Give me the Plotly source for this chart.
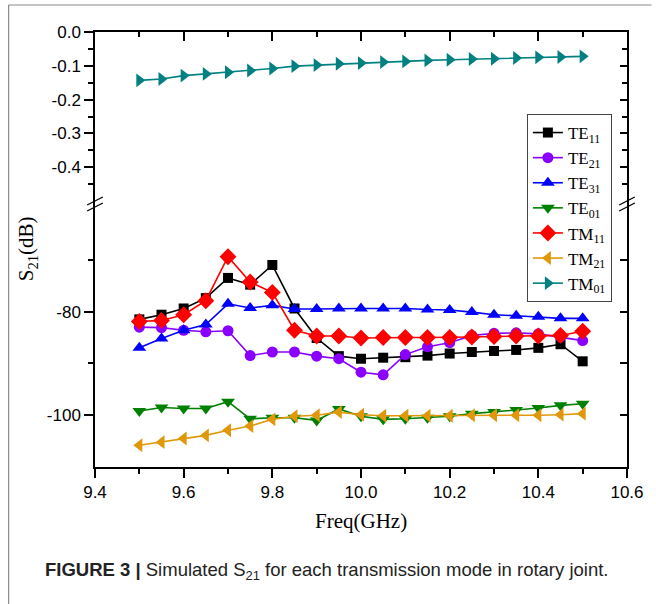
import plotly.graph_objects as go

freq = [9.5, 9.55, 9.6, 9.65, 9.7, 9.75, 9.8, 9.85, 9.9, 9.95, 10.0,
        10.05, 10.1, 10.15, 10.2, 10.25, 10.3, 10.35, 10.4, 10.45, 10.5]

te11 = [-81.5, -80.6, -79.4, -77.4, -73.5, -74.8, -71.0, -79.4, -85.1, -88.6, -89.1,
        -88.9, -88.8, -88.5, -88.1, -87.8, -87.6, -87.4, -87.0, -86.3, -89.6]
te21 = [-83.0, -83.1, -83.6, -83.9, -83.7, -88.5, -87.8, -87.8, -88.6, -89.1, -91.7,
        -92.2, -88.3, -86.8, -86.0, -84.6, -84.2, -84.1, -84.3, -84.9, -85.6]
te31 = [-87.0, -85.2, -83.6, -82.5, -78.5, -79.3, -78.8, -79.5, -79.5, -79.4, -79.4,
        -79.4, -79.4, -79.6, -79.7, -80.1, -80.6, -80.8, -81.0, -81.3, -81.3]
te01 = [-99.2, -98.5, -98.7, -98.7, -97.4, -100.7, -100.5, -100.5, -101.0, -98.8, -100.2,
        -100.8, -100.7, -100.5, -100.2, -99.7, -99.4, -99.0, -98.6, -98.1, -97.8]
tm11 = [-81.9, -81.7, -80.6, -77.9, -69.4, -74.3, -76.3, -83.6, -84.7, -84.7, -85.1,
        -85.0, -85.0, -85.0, -85.0, -84.9, -84.8, -84.7, -84.7, -84.6, -83.8]
tm21 = [-105.8, -105.2, -104.5, -103.9, -102.9, -102.1, -100.8, -100.2, -100.0, -99.4, -99.9,
        -100.1, -100.1, -100.1, -100.1, -100.0, -100.0, -100.0, -100.0, -99.9, -99.7]
tm01 = [-0.143, -0.139, -0.129, -0.124, -0.119, -0.114, -0.108, -0.101, -0.098, -0.094, -0.092,
        -0.089, -0.087, -0.084, -0.082, -0.080, -0.079, -0.077, -0.075, -0.074, -0.072]

x_ticks = [9.4, 9.6, 9.8, 10.0, 10.2, 10.4, 10.6]
x_labels = ["9.4", "9.6", "9.8", "10.0", "10.2", "10.4", "10.6"]
top_ticks = [0.0, -0.1, -0.2, -0.3, -0.4]
top_labels = ["0.0", "-0.1", "-0.2", "-0.3", "-0.4"]
top_minor = [-0.05, -0.15, -0.25, -0.35, -0.45]
low_ticks = [-80, -100]
low_labels = ["-80", "-100"]
low_minor = [-70, -90]

W, H = 656, 604
L, R, T, B = 95, 19, 32, 137
PW, PH = W - L - R, H - T - B


def px(x):
    return (x - L) / PW


def py(y):
    return (H - B - y) / PH


BREAK_Y = 204
d = py(BREAK_Y)
top_lo = -(BREAK_Y - 32) / 338.0
low_hi = -80 + (312 - BREAK_Y) / 5.2

series = [
    ("TE<sub>11</sub>", te11, "black", "square", 10, "y"),
    ("TE<sub>21</sub>", te21, "#8a00ff", "circle", 11, "y"),
    ("TE<sub>31</sub>", te31, "#0000ff", "triangle-up", 12, "y"),
    ("TE<sub>01</sub>", te01, "#008000", "triangle-down", 12, "y"),
    ("TM<sub>11</sub>", tm11, "#ff0000", "diamond", 13, "y"),
    ("TM<sub>21</sub>", tm21, "#e0980a", "triangle-left", 12, "y"),
    ("TM<sub>01</sub>", tm01, "#008080", "triangle-right", 12, "y2"),
]

fig = go.Figure()
for name, vals, col, sym, size, yax in series:
    fig.add_trace(go.Scatter(
        x=freq, y=vals, name=name, mode="lines+markers", yaxis=yax,
        line=dict(color=col, width=1.6),
        marker=dict(symbol=sym, size=size, color=col, line=dict(width=0)),
    ))

# empty traces so the mirror axes are drawn
fig.add_trace(go.Scatter(x=[], y=[], xaxis="x2", yaxis="y3", showlegend=False))
fig.add_trace(go.Scatter(x=[], y=[], xaxis="x2", yaxis="y4", showlegend=False))

tickfont = dict(family="Liberation Sans, Arial", size=17, color="black")
axline = dict(showline=True, linecolor="black", linewidth=1.5, showgrid=False, zeroline=False)

fig.update_layout(
    width=W, height=H, margin=dict(l=L, r=R, t=T, b=B),
    paper_bgcolor="white", plot_bgcolor="white",
    xaxis=dict(domain=[0, 1], anchor="y", range=[9.4, 10.6], tickvals=x_ticks, ticktext=x_labels,
               ticks="outside", ticklen=9, tickwidth=1.5, tickcolor="black", tickfont=tickfont,
               minor=dict(dtick=0.1, tick0=9.4, ticks="outside", ticklen=5, tickwidth=1.5, tickcolor="black"),
               **axline),
    xaxis2=dict(overlaying="x", anchor="y2", side="top", range=[9.4, 10.6], tickvals=x_ticks,
                showticklabels=False, ticks="inside", ticklen=9, tickwidth=1.5, tickcolor="black",
                minor=dict(dtick=0.1, tick0=9.4, ticks="inside", ticklen=5, tickwidth=1.5, tickcolor="black"),
                **axline),
    yaxis=dict(domain=[0, d], anchor="x", range=[-110, low_hi], tickvals=low_ticks, ticktext=low_labels,
               ticks="outside", ticklen=9, tickwidth=1.5, tickcolor="black", tickfont=tickfont,
               minor=dict(tickvals=low_minor, ticks="outside", ticklen=5, tickwidth=1.5, tickcolor="black"),
               **axline),
    yaxis2=dict(domain=[d, 1], anchor="x", range=[top_lo, 0], tickvals=top_ticks, ticktext=top_labels,
                ticks="outside", ticklen=9, tickwidth=1.5, tickcolor="black", tickfont=tickfont,
                minor=dict(tickvals=top_minor, ticks="outside", ticklen=5, tickwidth=1.5, tickcolor="black"),
                **axline),
    yaxis3=dict(overlaying="y", anchor="x", side="right", range=[-110, low_hi], tickvals=low_ticks,
                showticklabels=False, ticks="inside", ticklen=7, tickwidth=1.5, tickcolor="black",
                minor=dict(tickvals=low_minor, ticks="inside", ticklen=7, tickwidth=1.5, tickcolor="black"),
                **axline),
    yaxis4=dict(overlaying="y2", anchor="x", side="right", range=[top_lo, 0], tickvals=top_ticks,
                showticklabels=False, ticks="inside", ticklen=7, tickwidth=1.5, tickcolor="black",
                minor=dict(tickvals=top_minor, ticks="inside", ticklen=5, tickwidth=1.5, tickcolor="black"),
                **axline),
    legend=dict(x=px(535), y=py(114), xanchor="left", yanchor="top",
                bgcolor="white", bordercolor="#444", borderwidth=1,
                font=dict(family="Liberation Serif, Times New Roman", size=17, color="black"),
                itemwidth=30, tracegroupgap=0),
    showlegend=True,
)

fig.add_annotation(text="Freq(GHz)", xref="paper", yref="paper", x=px(366), y=py(521),
                   showarrow=False, xanchor="center", yanchor="middle",
                   font=dict(family="Liberation Serif, Times New Roman", size=21, color="black"))
fig.add_annotation(text="S<sub>21</sub>(dB)", xref="paper", yref="paper", x=px(26), y=py(249),
                   showarrow=False, xanchor="center", yanchor="middle", textangle=-90,
                   font=dict(family="Liberation Serif, Times New Roman", size=21, color="black"))
fig.add_annotation(text="<b>FIGURE 3 |</b> Simulated S<sub>21</sub> for each transmission mode in rotary joint.",
                   xref="paper", yref="paper", x=px(42), y=py(571),
                   showarrow=False, xanchor="left", yanchor="middle",
                   font=dict(family="Liberation Sans Narrow, Arial Narrow, Liberation Sans", size=18.5, color="#222"))

shapes = []
shapes.append(dict(type="line", xref="paper", yref="paper", x0=px(7), y0=py(5), x1=px(7), y1=py(610),
                   line=dict(color="#8a8a8a", width=1.2)))
shapes.append(dict(type="line", xref="paper", yref="paper", x0=px(7), y0=py(5), x1=px(662), y1=py(5),
                   line=dict(color="#8a8a8a", width=1.2)))
for xc in (L, W - R):
    for dy in (-3, 3):
        yc = BREAK_Y + dy
        shapes.append(dict(type="line", xref="paper", yref="paper",
                           x0=px(xc - 8), y0=py(yc + 4), x1=px(xc + 8), y1=py(yc - 4),
                           line=dict(color="black", width=1.3)))
fig.update_layout(shapes=shapes)

fig.write_html("out.html")
